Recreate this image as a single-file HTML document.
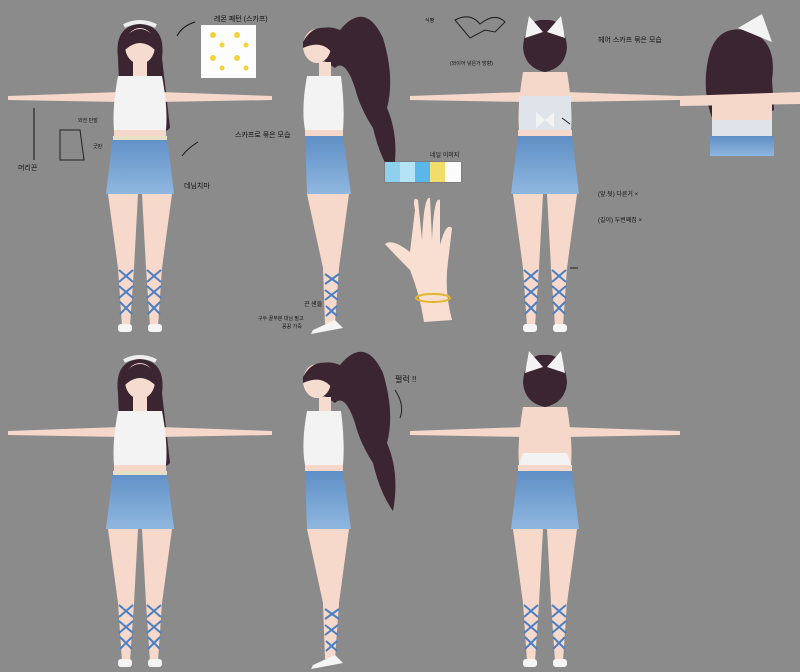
<!DOCTYPE html>
<html><head><meta charset="utf-8"><style>
html,body{margin:0;padding:0;background:#8b8b8b;}
svg{display:block}
text{font-family:"Liberation Sans","Noto Sans CJK KR",sans-serif;fill:#111}
</style></head><body>
<svg width="800" height="672" viewBox="0 0 800 672" xmlns="http://www.w3.org/2000/svg">
<defs>
<linearGradient id="sk" x1="0" y1="0" x2="0" y2="1"><stop offset="0" stop-color="#5f8fc6"/><stop offset="1" stop-color="#8fb7df"/></linearGradient>
<g id="legs">
 <path d="M-32,96 L-2,96 L-6,170 L-22,170Z" fill="#f7d9cc"/>
 <path d="M2,96 L32,96 L22,170 L6,170Z" fill="#f7d9cc"/>
 <path d="M-22,170 L-6,170 L-10,228 L-18,228Z" fill="#f7d9cc"/>
 <path d="M6,170 L22,170 L18,228 L10,228Z" fill="#f7d9cc"/>
 <path d="M-21,172 L-7,184 M-7,172 L-21,184 M-21,188 L-7,200 M-7,188 L-21,200 M-20,204 L-8,216 M-8,204 L-20,216 M7,172 L21,184 M21,172 L7,184 M7,188 L21,200 M21,188 L7,200 M8,204 L20,216 M20,204 L8,216" stroke="#4a7fc4" stroke-width="2"/>
 <rect x="-22" y="226" width="14" height="8" rx="3" fill="#f5f5f5"/>
 <rect x="8" y="226" width="14" height="8" rx="3" fill="#f5f5f5"/>
</g>
<g id="front">
 <path d="M-22,-40 Q-26,-72 0,-74 Q26,-72 22,-40 L30,30 Q20,40 18,20 L-20,10 Z" fill="#3a2530"/>
 <ellipse cx="0" cy="-52" rx="15" ry="18" fill="#f6dcd0"/>
 <path d="M-17,-58 Q0,-80 17,-58 L15,-48 Q0,-62 -15,-48Z" fill="#3a2530"/>
 <path d="M-16,-72 Q0,-80 16,-72" stroke="#eee" stroke-width="4" fill="none"/>
 <path d="M-132,-2 L-20,-6 L-18,4 L-132,2Z" fill="#f6d8cb"/>
 <path d="M132,-2 L20,-6 L18,4 L132,2Z" fill="#f6d8cb"/>
 <rect x="-7" y="-36" width="14" height="14" fill="#f6dcd0"/>
 <path d="M-22,-22 L22,-22 Q28,10 26,32 L-26,32 Q-28,10 -22,-22Z" fill="#f3f3f3"/>
 <rect x="-26" y="32" width="52" height="6" fill="#f6d8cb"/>
 <path d="M-27,38 L27,38 L34,96 L-34,96Z" fill="url(#sk)"/>
 <rect x="-27" y="38" width="54" height="4" fill="#e6e0c6"/>
 <use href="#legs"/>
</g>
<g id="back">
 <path d="M-22,-50 Q-20,-80 0,-78 Q20,-80 22,-50 Q20,-30 0,-26 Q-20,-30 -22,-50Z" fill="#3a2530"/>
 <path d="M-16,-82 L-2,-66 L-20,-60Z M16,-82 L2,-66 L20,-60Z" fill="#f3f3f3"/>
 <path d="M-135,-2 L-20,-6 L-18,4 L-135,2Z" fill="#f6d8cb"/>
 <path d="M135,-2 L20,-6 L18,4 L135,2Z" fill="#f6d8cb"/>
 <path d="M-22,-26 L22,-26 Q28,10 26,32 L-26,32 Q-28,10 -22,-26Z" fill="#f6d8cb"/>
 <path d="M-22,20 L22,20 L26,32 L-26,32Z" fill="#f3f3f3"/>
 <path d="M-27,38 L27,38 L34,96 L-34,96Z" fill="url(#sk)"/>
 <rect x="-27" y="32" width="54" height="6" fill="#f6d8cb"/>
 <use href="#legs"/>
</g>
<g id="side">
 <path d="M-20,-50 Q-10,-78 15,-68 Q40,-98 58,-60 Q70,-20 62,10 Q75,40 68,78 Q55,60 48,30 Q35,10 30,-10 Q20,-40 10,-30Z" fill="#3a2530"/>
 <ellipse cx="-8" cy="-52" rx="14" ry="17" fill="#f6dcd0"/>
 <path d="M-22,-56 Q-10,-78 12,-66 L10,-40 Q0,-60 -22,-50Z" fill="#3a2530"/>
 <rect x="-6" y="-36" width="12" height="14" fill="#f6dcd0"/>
 <path d="M-18,-22 L16,-22 Q20,10 18,32 L-20,32 Q-24,10 -18,-22Z" fill="#f3f3f3"/>
 <rect x="-20" y="32" width="38" height="6" fill="#f6d8cb"/>
 <path d="M-20,38 L18,38 L26,96 L-18,96Z" fill="url(#sk)"/>
 <path d="M-18,96 L24,96 L14,170 L-2,170Z" fill="#f7d9cc"/>
 <path d="M-2,170 L14,170 L10,226 L0,226Z" fill="#f7d9cc"/>
 <path d="M0,176 L14,186 M14,176 L0,186 M0,192 L13,202 M13,192 L0,202 M1,208 L12,218 M12,208 L1,218" stroke="#4a7fc4" stroke-width="2"/>
 <path d="M-12,232 L10,222 L18,230 L-14,236Z" fill="#f5f5f5"/>
</g>
</defs>

<use href="#front" x="140" y="98"/>
<use href="#side" x="325" y="98"/>
<use href="#back" x="545" y="98"/>
<rect x="519" y="96" width="52" height="34" fill="#dfe3ea"/>
<path d="M536,112 L545,120 L554,112 L554,128 L545,120 L536,128Z" fill="#f3f3f3"/>
<use href="#front" x="140" y="433"/>
<use href="#side" x="325" y="433"/>
<use href="#back" x="545" y="433"/>

<!-- top right small back view -->
<path d="M708,60 Q715,25 745,30 Q778,38 772,80 L774,110 L720,135 Q700,100 708,60Z" fill="#3a2530"/>
<path d="M738,28 L762,14 L772,42 Z" fill="#f3f3f3"/>
<path d="M680,96 L800,92 L800,104 L680,106Z" fill="#f6d8cb"/>
<rect x="712" y="100" width="60" height="36" fill="#f6d8cb"/>
<rect x="712" y="120" width="60" height="16" fill="#dfe3ea"/>
<rect x="710" y="136" width="64" height="20" fill="url(#sk)"/>

<!-- lemon pattern -->
<rect x="201" y="25" width="55" height="53" fill="#fdfdfd"/>
<g fill="#f4d23a"><circle cx="213" cy="35" r="3"/><circle cx="237" cy="35" r="3"/><circle cx="213" cy="58" r="3"/><circle cx="237" cy="58" r="3"/><circle cx="222" cy="45" r="2.5"/><circle cx="246" cy="45" r="2.5"/><circle cx="222" cy="68" r="2.5"/><circle cx="246" cy="68" r="2.5"/></g>
<text x="214" y="21" font-size="7">레몬 패턴 (스카프)</text>
<path d="M195,22 Q182,26 177,36" stroke="#111" fill="none"/>
<text x="235" y="137" font-size="7">스카프로 묶은 모습</text>
<path d="M198,142 Q188,148 182,156" stroke="#111" fill="none"/>
<text x="184" y="188" font-size="7">데님치마</text>
<text x="18" y="170" font-size="7">머리끈</text>
<path d="M34,160 L34,108" stroke="#111"/>
<path d="M60,130 L80,130 L84,160 L60,160Z" fill="none" stroke="#222"/>
<text x="78" y="122" font-size="5">와전 단발</text>
<text x="93" y="148" font-size="5">굿판</text>

<!-- nails -->
<text x="430" y="157" font-size="6">네일 이미지</text>
<rect x="385" y="162" width="76" height="20" fill="#fff" stroke="#555" stroke-width=".5"/>
<rect x="385" y="162" width="15" height="20" fill="#8fd0ef"/><rect x="400" y="162" width="15" height="20" fill="#b6e2f5"/><rect x="415" y="162" width="15" height="20" fill="#5ab7ea"/><rect x="430" y="162" width="15" height="20" fill="#f2dd6a"/><rect x="445" y="162" width="16" height="20" fill="#fbfbfb"/>
<!-- hand -->
<path d="M415,210 Q412,195 418,200 L422,240 Q424,195 430,198 L432,240 Q434,195 440,200 L440,245 Q446,222 452,228 L448,262 Q444,290 452,320 L424,322 Q420,295 410,270 Q395,255 385,244 Q392,238 410,252Z" fill="#f9dfd2"/>
<ellipse cx="433" cy="298" rx="17" ry="4" fill="none" stroke="#e2b52a" stroke-width="2"/>
<text x="304" y="306" font-size="6">끈 샌들</text>
<text x="258" y="320" font-size="5">구두 끝부분 대님 필고</text>
<text x="282" y="328" font-size="5">꽁꽁 가죽</text>

<!-- back notes -->
<text x="598" y="42" font-size="7">헤어 스카프 묶은 모습</text>
<path d="M455,20 Q470,12 480,24 Q495,12 505,22 L495,32 L485,30 L470,38Z" fill="none" stroke="#222"/>
<text x="425" y="22" font-size="5">식빵</text>
<text x="450" y="65" font-size="5">(와이어 넣은거 방향)</text>
<text x="598" y="196" font-size="6">(앞.뒷)  다른거 ×</text>
<text x="598" y="222" font-size="6">(길이)  두번째집 ×</text>
<path d="M570,124 L562,118 M578,268 L570,268" stroke="#222"/>
<text x="395" y="382" font-size="8">펄럭 !!</text>
<path d="M395,390 Q405,405 400,418" stroke="#222" fill="none"/>
</svg>
</body></html>
